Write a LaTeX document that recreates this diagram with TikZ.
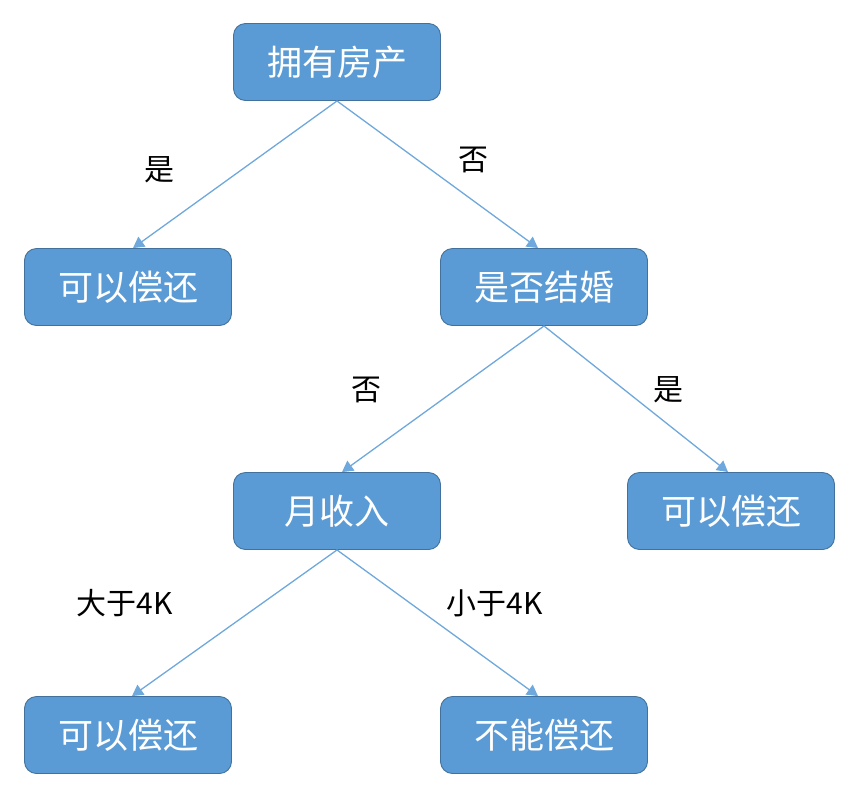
\documentclass[tikz,border=0pt]{standalone}
\usepackage{fontspec}
\setmainfont{Noto Sans CJK SC}
\usetikzlibrary{arrows.meta}
\definecolor{boxblue}{HTML}{5B9BD5}
\definecolor{boxedge}{HTML}{41719C}
\definecolor{linkblue}{HTML}{6FA8DC}
\tikzset{
  treebox/.style={draw=boxedge, line width=0.9pt, fill=boxblue, rounded corners=12pt,
    minimum width=207pt, minimum height=77pt, inner sep=0pt, text=white,
    font=\fontsize{35pt}{40pt}\selectfont},
  link/.style={draw=linkblue, line width=1.3pt, -{Triangle[width=12pt,length=11pt]}},
  answer/.style={inner sep=0pt, font=\fontsize{30pt}{34pt}\selectfont}
}
\begin{document}
\begin{tikzpicture}[x=1pt,y=-1pt]
\useasboundingbox (0,0) rectangle (850,788);
\node[treebox] (b11) at (337, 62) {拥有房产};
\node[treebox] (b21) at (128, 287) {可以偿还};
\node[treebox] (b22) at (544, 287) {是否结婚};
\node[treebox] (b31) at (337, 511) {月收入};
\node[treebox] (b32) at (731, 511) {可以偿还};
\node[treebox] (b41) at (128, 735) {可以偿还};
\node[treebox] (b42) at (544, 735) {不能偿还};

\node[answer] (y1) at (159, 170) {是};
\node[answer] (n1) at (473, 160) {否};
\node[answer] (n2) at (366, 390) {否};
\node[answer] (y2) at (668, 390) {是};
\node[answer] (g1) at (125, 603) {大于4K};
\node[answer] (l1) at (495, 603) {小于4K};

\draw[link] (b11.south) -- ([xshift=5pt]b21.north);
\draw[link] (b11.south) -- ([xshift=-6pt]b22.north);
\draw[link] (b22.south) -- ([xshift=5pt]b31.north);
\draw[link] (b22.south) -- ([xshift=-3pt]b32.north);
\draw[link] (b31.south) -- ([xshift=4pt]b41.north);
\draw[link] (b31.south) -- ([xshift=-6pt]b42.north);
\end{tikzpicture}
\end{document}
